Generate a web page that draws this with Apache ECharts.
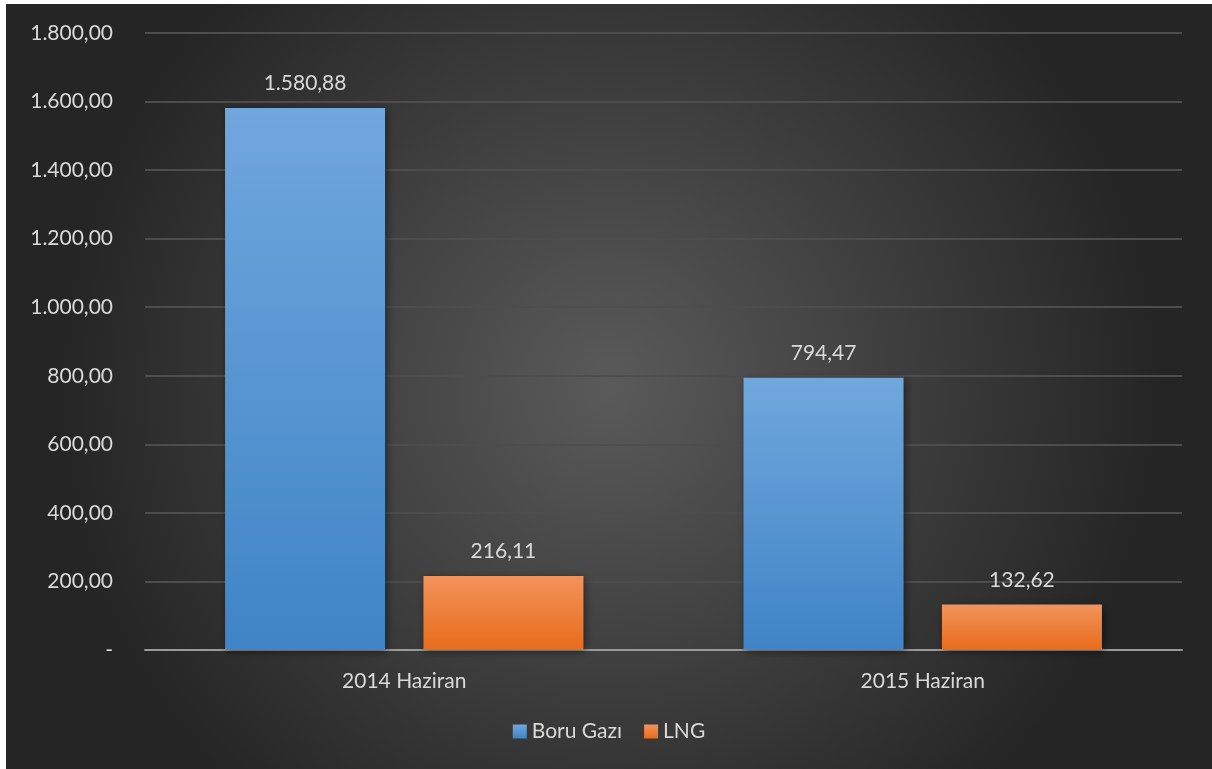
<!DOCTYPE html>
<html>
<head>
<meta charset="utf-8">
<script src="https://cdn.jsdelivr.net/npm/echarts@6/dist/echarts.min.js"></script>
<style>
html,body{margin:0;padding:0;background:#ffffff;}
#c{position:absolute;left:6px;top:4px;width:1206px;height:765px;}
</style>
</head>
<body>
<div id="c"></div>
<script>
const categories = ['2014 Haziran', '2015 Haziran'];
const seriesNames = ['Boru Gazı', 'LNG'];
const boruGazi = [1580.88, 794.47];
const lng = [216.11, 132.62];
const yTicks = [0, 200, 400, 600, 800, 1000, 1200, 1400, 1600, 1800];

function trFmt(v) {
  if (v === 0) return '-';
  const fixed = Math.abs(v).toFixed(2);
  let [ip, dp] = fixed.split('.');
  ip = ip.replace(/\B(?=(\d{3})+(?!\d))/g, '.');
  return (v < 0 ? '-' : '') + ip + ',' + dp;
}

const chart = echarts.init(document.getElementById('c'));
const FONT = 'Lato';
const TXT = '#d9d9d9';
const FS = 21;
function grad(top, bottom) {
  return new echarts.graphic.LinearGradient(0, 0, 0, 1, [
    {offset: 0, color: top}, {offset: 1, color: bottom}
  ]);
}
chart.setOption({
  backgroundColor: {
    type: 'radial', x: 0.5, y: 0.5, r: 0.72,
    colorStops: [{offset: 0, color: '#5a5a5a'}, {offset: 1, color: '#252525'}]
  },
  textStyle: {fontFamily: FONT},
  grid: {left: 139, right: 30, top: 29, bottom: 119},
  legend: {
    data: seriesNames,
    bottom: 22,
    left: 'center',
    icon: 'rect',
    itemWidth: 14, itemHeight: 14, itemGap: 22,
    textStyle: {color: TXT, fontSize: FS, fontFamily: FONT}
  },
  xAxis: {
    type: 'category',
    data: categories,
    axisLine: {lineStyle: {color: '#9a9a9a', width: 2}},
    axisTick: {show: false},
    axisLabel: {color: TXT, fontSize: FS, margin: 21, fontFamily: FONT}
  },
  yAxis: {
    type: 'value',
    min: 0, max: 1800, interval: 200,
    axisLine: {show: false},
    axisTick: {show: false},
    splitLine: {lineStyle: {color: '#4d4d4d', width: 2}},
    axisLabel: {color: TXT, fontSize: FS, margin: 32, fontFamily: FONT, formatter: trFmt}
  },
  series: [
    {
      name: seriesNames[0], type: 'bar', data: boruGazi,
      barWidth: 160, barGap: '24%',
      itemStyle: {color: grad('#70a7dd', '#3f84c6'), shadowColor: 'rgba(0,0,0,0.45)', shadowBlur: 8, shadowOffsetX: 2, shadowOffsetY: 2},
      label: {show: true, position: 'top', distance: 14, color: TXT, fontSize: FS, fontFamily: FONT, formatter: p => trFmt(p.value)}
    },
    {
      name: seriesNames[1], type: 'bar', data: lng,
      barWidth: 160,
      itemStyle: {color: grad('#f2935c', '#e86c1a'), shadowColor: 'rgba(0,0,0,0.45)', shadowBlur: 8, shadowOffsetX: 2, shadowOffsetY: 2},
      label: {show: true, position: 'top', distance: 14, color: TXT, fontSize: FS, fontFamily: FONT, formatter: p => trFmt(p.value)}
    }
  ]
});
</script>
</body>
</html>
